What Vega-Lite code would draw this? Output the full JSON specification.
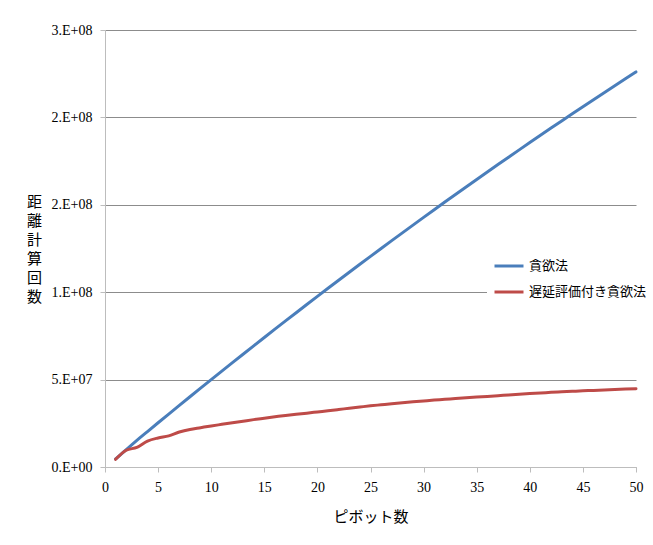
{
  "$schema": "https://vega.github.io/schema/vega-lite/v6.json",
  "width": 531,
  "height": 437,
  "autosize": {"type": "none"},
  "padding": {"left": 105, "top": 30, "right": 17, "bottom": 78},
  "background": "white",
  "config": {
    "view": {"stroke": null},
    "axis": {
      "labelFont": "Liberation Serif",
      "labelFontSize": 14,
      "labelColor": "#000000",
      "titleFont": "Noto Sans CJK JP",
      "titleFontSize": 15,
      "titleFontWeight": "normal",
      "titleColor": "#000000",
      "domainColor": "#bdbdbd",
      "tickColor": "#bdbdbd",
      "tickSize": 5
    }
  },
  "datasets": {
    "counts": [
      {"pivots": 1, "method": "貪欲法", "count": 4600000},
      {"pivots": 2, "method": "貪欲法", "count": 9900000},
      {"pivots": 3, "method": "貪欲法", "count": 15250000},
      {"pivots": 4, "method": "貪欲法", "count": 20290000},
      {"pivots": 5, "method": "貪欲法", "count": 25300000},
      {"pivots": 6, "method": "貪欲法", "count": 30290000},
      {"pivots": 7, "method": "貪欲法", "count": 35250000},
      {"pivots": 8, "method": "貪欲法", "count": 40190000},
      {"pivots": 9, "method": "貪欲法", "count": 45110000},
      {"pivots": 10, "method": "貪欲法", "count": 50000000},
      {"pivots": 11, "method": "貪欲法", "count": 54870000},
      {"pivots": 12, "method": "貪欲法", "count": 59710000},
      {"pivots": 13, "method": "貪欲法", "count": 64530000},
      {"pivots": 14, "method": "貪欲法", "count": 69330000},
      {"pivots": 15, "method": "貪欲法", "count": 74100000},
      {"pivots": 16, "method": "貪欲法", "count": 78850000},
      {"pivots": 17, "method": "貪欲法", "count": 83570000},
      {"pivots": 18, "method": "貪欲法", "count": 88270000},
      {"pivots": 19, "method": "貪欲法", "count": 92950000},
      {"pivots": 20, "method": "貪欲法", "count": 97600000},
      {"pivots": 21, "method": "貪欲法", "count": 102230000},
      {"pivots": 22, "method": "貪欲法", "count": 106830000},
      {"pivots": 23, "method": "貪欲法", "count": 111410000},
      {"pivots": 24, "method": "貪欲法", "count": 115970000},
      {"pivots": 25, "method": "貪欲法", "count": 120500000},
      {"pivots": 26, "method": "貪欲法", "count": 125010000},
      {"pivots": 27, "method": "貪欲法", "count": 129490000},
      {"pivots": 28, "method": "貪欲法", "count": 133950000},
      {"pivots": 29, "method": "貪欲法", "count": 138390000},
      {"pivots": 30, "method": "貪欲法", "count": 142800000},
      {"pivots": 31, "method": "貪欲法", "count": 147190000},
      {"pivots": 32, "method": "貪欲法", "count": 151550000},
      {"pivots": 33, "method": "貪欲法", "count": 155890000},
      {"pivots": 34, "method": "貪欲法", "count": 160210000},
      {"pivots": 35, "method": "貪欲法", "count": 164500000},
      {"pivots": 36, "method": "貪欲法", "count": 168770000},
      {"pivots": 37, "method": "貪欲法", "count": 173010000},
      {"pivots": 38, "method": "貪欲法", "count": 177230000},
      {"pivots": 39, "method": "貪欲法", "count": 181430000},
      {"pivots": 40, "method": "貪欲法", "count": 185600000},
      {"pivots": 41, "method": "貪欲法", "count": 189750000},
      {"pivots": 42, "method": "貪欲法", "count": 193870000},
      {"pivots": 43, "method": "貪欲法", "count": 197970000},
      {"pivots": 44, "method": "貪欲法", "count": 202050000},
      {"pivots": 45, "method": "貪欲法", "count": 206100000},
      {"pivots": 46, "method": "貪欲法", "count": 210130000},
      {"pivots": 47, "method": "貪欲法", "count": 214130000},
      {"pivots": 48, "method": "貪欲法", "count": 218110000},
      {"pivots": 49, "method": "貪欲法", "count": 222070000},
      {"pivots": 50, "method": "貪欲法", "count": 226000000},
      {"pivots": 1, "method": "遅延評価付き貪欲法", "count": 4400000},
      {"pivots": 2, "method": "遅延評価付き貪欲法", "count": 9600000},
      {"pivots": 3, "method": "遅延評価付き貪欲法", "count": 11200000},
      {"pivots": 4, "method": "遅延評価付き貪欲法", "count": 14800000},
      {"pivots": 5, "method": "遅延評価付き貪欲法", "count": 16600000},
      {"pivots": 6, "method": "遅延評価付き貪欲法", "count": 17800000},
      {"pivots": 7, "method": "遅延評価付き貪欲法", "count": 20000000},
      {"pivots": 8, "method": "遅延評価付き貪欲法", "count": 21500000},
      {"pivots": 9, "method": "遅延評価付き貪欲法", "count": 22500000},
      {"pivots": 10, "method": "遅延評価付き貪欲法", "count": 23500000},
      {"pivots": 11, "method": "遅延評価付き貪欲法", "count": 24400000},
      {"pivots": 12, "method": "遅延評価付き貪欲法", "count": 25300000},
      {"pivots": 13, "method": "遅延評価付き貪欲法", "count": 26200000},
      {"pivots": 14, "method": "遅延評価付き貪欲法", "count": 27100000},
      {"pivots": 15, "method": "遅延評価付き貪欲法", "count": 27900000},
      {"pivots": 16, "method": "遅延評価付き貪欲法", "count": 28700000},
      {"pivots": 17, "method": "遅延評価付き貪欲法", "count": 29500000},
      {"pivots": 18, "method": "遅延評価付き貪欲法", "count": 30200000},
      {"pivots": 19, "method": "遅延評価付き貪欲法", "count": 30800000},
      {"pivots": 20, "method": "遅延評価付き貪欲法", "count": 31500000},
      {"pivots": 21, "method": "遅延評価付き貪欲法", "count": 32200000},
      {"pivots": 22, "method": "遅延評価付き貪欲法", "count": 32900000},
      {"pivots": 23, "method": "遅延評価付き貪欲法", "count": 33600000},
      {"pivots": 24, "method": "遅延評価付き貪欲法", "count": 34300000},
      {"pivots": 25, "method": "遅延評価付き貪欲法", "count": 35000000},
      {"pivots": 26, "method": "遅延評価付き貪欲法", "count": 35600000},
      {"pivots": 27, "method": "遅延評価付き貪欲法", "count": 36200000},
      {"pivots": 28, "method": "遅延評価付き貪欲法", "count": 36700000},
      {"pivots": 29, "method": "遅延評価付き貪欲法", "count": 37300000},
      {"pivots": 30, "method": "遅延評価付き貪欲法", "count": 37800000},
      {"pivots": 31, "method": "遅延評価付き貪欲法", "count": 38300000},
      {"pivots": 32, "method": "遅延評価付き貪欲法", "count": 38700000},
      {"pivots": 33, "method": "遅延評価付き貪欲法", "count": 39200000},
      {"pivots": 34, "method": "遅延評価付き貪欲法", "count": 39600000},
      {"pivots": 35, "method": "遅延評価付き貪欲法", "count": 40000000},
      {"pivots": 36, "method": "遅延評価付き貪欲法", "count": 40400000},
      {"pivots": 37, "method": "遅延評価付き貪欲法", "count": 40800000},
      {"pivots": 38, "method": "遅延評価付き貪欲法", "count": 41200000},
      {"pivots": 39, "method": "遅延評価付き貪欲法", "count": 41600000},
      {"pivots": 40, "method": "遅延評価付き貪欲法", "count": 42000000},
      {"pivots": 41, "method": "遅延評価付き貪欲法", "count": 42300000},
      {"pivots": 42, "method": "遅延評価付き貪欲法", "count": 42700000},
      {"pivots": 43, "method": "遅延評価付き貪欲法", "count": 43000000},
      {"pivots": 44, "method": "遅延評価付き貪欲法", "count": 43300000},
      {"pivots": 45, "method": "遅延評価付き貪欲法", "count": 43600000},
      {"pivots": 46, "method": "遅延評価付き貪欲法", "count": 43800000},
      {"pivots": 47, "method": "遅延評価付き貪欲法", "count": 44100000},
      {"pivots": 48, "method": "遅延評価付き貪欲法", "count": 44300000},
      {"pivots": 49, "method": "遅延評価付き貪欲法", "count": 44600000},
      {"pivots": 50, "method": "遅延評価付き貪欲法", "count": 44800000}
    ]
  },
  "data": {"name": "counts"},
  "mark": {"type": "line", "interpolate": "monotone", "strokeWidth": 3, "strokeCap": "round"},
  "encoding": {
    "x": {
      "field": "pivots",
      "type": "quantitative",
      "scale": {"domain": [0, 50], "nice": false, "zero": true},
      "axis": {
        "title": "ピボット数",
        "values": [0, 5, 10, 15, 20, 25, 30, 35, 40, 45, 50],
        "grid": false,
        "labelPadding": 8,
        "labelFlush": false,
        "titleY": 42,
        "titleBaseline": "top"
      }
    },
    "y": {
      "field": "count",
      "type": "quantitative",
      "scale": {"domain": [0, 250000000], "nice": false},
      "axis": {
        "title": ["距", "離", "計", "算", "回", "数"],
        "titleAngle": 0,
        "titleAlign": "center",
        "titleBaseline": "top",
        "titleX": -71,
        "titleY": 164,
        "titleLineHeight": 19,
        "values": [0, 50000000, 100000000, 150000000, 200000000, 250000000],
        "labelExpr": "datum.value == 0 ? '0.E+00' : datum.value == 50000000 ? '5.E+07' : datum.value == 100000000 ? '1.E+08' : datum.value <= 200000000 ? '2.E+08' : '3.E+08'",
        "labelPadding": 8,
        "labelFlush": false,
        "grid": true,
        "gridColor": "#8c8c8c",
        "gridWidth": 1
      }
    },
    "color": {
      "field": "method",
      "type": "nominal",
      "scale": {"domain": ["貪欲法", "遅延評価付き貪欲法"], "range": ["#4a7ebb", "#be4b48"]},
      "legend": {
        "title": null,
        "orient": "none",
        "legendX": 382,
        "legendY": 214,
        "padding": 6,
        "fillColor": "white",
        "symbolType": "stroke",
        "symbolSize": 841,
        "symbolStrokeWidth": 3,
        "labelFont": "Noto Sans CJK JP",
        "labelFontSize": 13,
        "labelColor": "#000000",
        "labelOffset": 4,
        "rowPadding": 3,
        "labelLimit": 200
      }
    }
  }
}
